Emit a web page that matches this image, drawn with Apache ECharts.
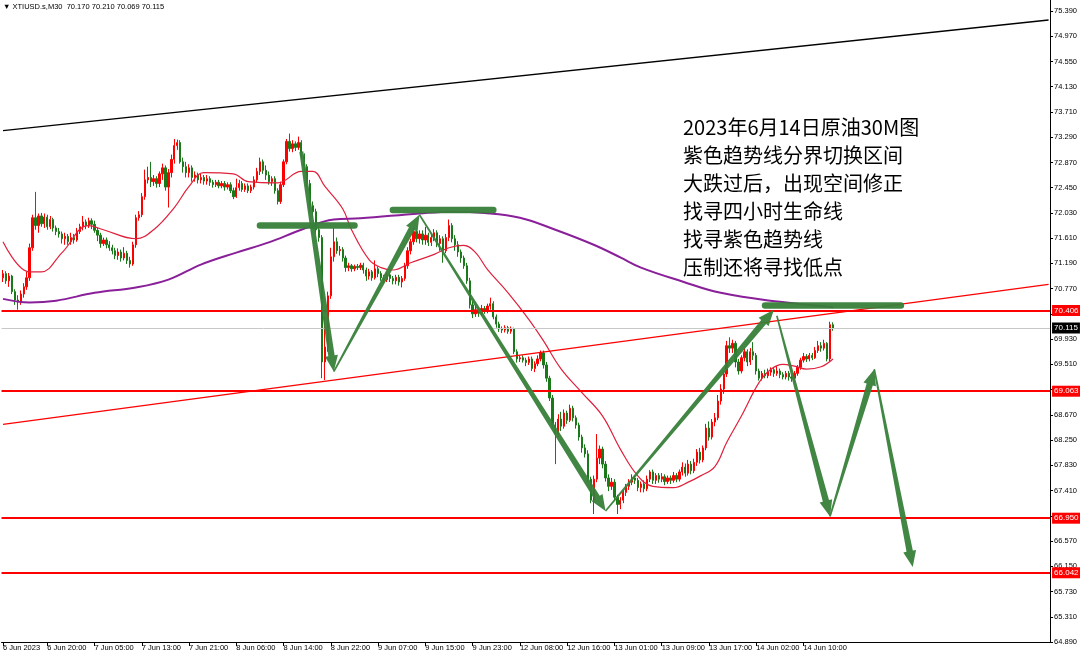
<!DOCTYPE html>
<html><head><meta charset="utf-8">
<script src="https://cdn.jsdelivr.net/npm/echarts@6/dist/echarts.min.js"></script>
<style>html,body{margin:0;padding:0;background:#fff}#c{width:1080px;height:652px}</style>
</head><body><div id="c"></div>
<script>
// ---- candles: [open, close, low, high], one array per trading day ----
const jun6 = [
[70.95,71.02,70.88,71.08],[71.02,70.90,70.85,71.06],[70.90,70.98,70.80,71.03],[70.98,70.72,70.68,71.00],
[70.72,70.58,70.50,70.76],[70.58,70.55,70.42,70.66],[70.55,70.68,70.50,70.74],[70.68,70.80,70.62,70.86],
[70.80,70.95,70.75,71.05],[70.95,71.45,70.90,71.52],[71.45,71.95,71.40,72.00],[71.95,71.82,71.75,72.38],
[71.82,71.98,71.70,72.02],[71.98,71.85,71.80,72.03],[71.85,71.96,71.78,72.02],[71.96,71.80,71.75,72.00],
[71.80,71.92,71.76,71.98],[71.92,71.78,71.72,71.95],[71.78,71.72,71.66,71.82],[71.72,71.68,71.62,71.78],
[71.68,71.60,71.52,71.72],[71.60,71.64,71.50,71.70],[71.64,71.55,71.50,71.68]];
const jun7 = [
[71.55,71.62,71.50,71.70],[71.62,71.58,71.52,71.68],[71.58,71.72,71.55,71.78],[71.72,71.80,71.68,71.85],
[71.80,71.88,71.74,71.98],[71.88,71.82,71.76,71.92],[71.82,71.90,71.78,71.95],[71.90,71.84,71.76,71.94],
[71.84,71.74,71.70,71.90],[71.74,71.66,71.56,71.78],[71.66,71.52,71.45,71.70],[71.52,71.58,71.48,71.62],
[71.58,71.50,71.44,71.62],[71.50,71.45,71.40,71.56],[71.45,71.40,71.34,71.50],[71.40,71.32,71.26,71.45],
[71.32,71.38,71.25,71.44],[71.38,71.28,71.22,71.42],[71.28,71.36,71.24,71.46],[71.36,71.24,71.18,71.40],
[71.24,71.18,71.12,71.30],[71.18,71.50,71.15,71.55],[71.50,71.95,71.45,72.00],[71.95,72.00,71.90,72.06],
[72.00,72.30,71.96,72.36],[72.30,72.58,72.25,72.75],[72.58,72.62,72.52,72.80],[72.62,72.55,72.46,72.88],
[72.55,72.60,72.48,72.66],[72.60,72.52,72.45,72.64],[72.52,72.68,72.46,72.72],[72.68,72.78,72.58,72.85],
[72.78,72.46,72.40,72.82],[72.46,72.70,72.12,72.76],[72.70,72.92,72.62,73.00],[72.92,73.15,72.85,73.26],
[73.15,73.20,73.08,73.25],[73.20,72.88,72.85,73.24],[72.88,72.80,72.70,72.95],[72.80,72.70,72.62,72.88],
[72.70,72.78,72.62,72.84],[72.78,72.62,72.55,72.82],[72.62,72.66,72.55,72.72],[72.66,72.58,72.52,72.70],
[72.58,72.62,72.52,72.68],[72.62,72.56,72.50,72.66]];
const jun8 = [
[72.56,72.60,72.50,72.66],[72.60,72.54,72.48,72.64],[72.54,72.50,72.45,72.58],[72.50,72.54,72.46,72.58],
[72.54,72.48,72.44,72.58],[72.48,72.52,72.44,72.56],[72.52,72.46,72.40,72.56],[72.46,72.50,72.42,72.54],
[72.50,72.40,72.36,72.54],[72.40,72.30,72.26,72.45],[72.30,72.45,72.28,72.60],[72.45,72.52,72.40,72.58],
[72.52,72.42,72.38,72.56],[72.42,72.48,72.38,72.52],[72.48,72.40,72.36,72.52],[72.40,72.46,72.36,72.50],
[72.46,72.58,72.42,72.64],[72.58,72.72,72.54,72.78],[72.72,72.88,72.66,72.95],[72.88,72.74,72.68,72.92],
[72.74,72.66,72.58,72.82],[72.66,72.55,72.50,72.72],[72.55,72.60,72.48,72.64],[72.60,72.40,72.35,72.64],
[72.40,72.22,72.17,72.44],[72.22,72.50,72.18,72.55],[72.50,72.88,72.46,72.92],[72.88,73.22,72.84,73.26],
[73.22,73.10,73.05,73.35],[73.10,73.18,73.04,73.24],[73.18,73.12,73.06,73.22],[73.12,73.20,73.08,73.30],
[73.20,72.98,72.92,73.24],[72.98,72.80,72.74,73.02],[72.80,72.52,72.45,72.84],[72.52,72.15,72.05,72.58],
[72.15,72.05,71.96,72.22],[72.05,71.75,71.68,72.10],[71.75,71.62,71.55,71.82],[71.62,69.55,69.28,71.66],
[69.55,69.80,69.25,70.30],[69.80,70.65,69.72,70.72],[70.65,71.30,70.60,71.45],[71.30,71.55,71.22,71.78],
[71.55,71.40,71.35,71.62],[71.40,71.42,71.32,71.48]];
const jun9 = [
[71.42,71.28,71.22,71.46],[71.28,71.12,71.05,71.32],[71.12,71.15,71.06,71.20],[71.15,71.10,71.05,71.18],
[71.10,71.14,71.06,71.17],[71.14,71.12,71.08,71.18],[71.12,71.16,71.08,71.20],[71.16,71.08,71.02,71.20],
[71.08,70.98,70.90,71.12],[70.98,71.05,70.92,71.10],[71.05,70.95,70.90,71.08],[70.95,71.10,70.92,71.24],
[71.10,71.02,70.96,71.14],[71.02,70.95,70.90,71.06],[70.95,70.92,70.86,71.00],[70.92,71.00,70.88,71.04],
[71.00,70.94,70.88,71.04],[70.94,70.90,70.84,70.98],[70.90,70.96,70.84,71.00],[70.96,70.88,70.82,71.00],
[70.88,70.94,70.79,70.98],[70.94,71.15,70.90,71.20],[71.15,71.40,71.10,71.46],[71.40,71.55,71.34,71.60],
[71.55,71.72,71.50,71.78],[71.72,71.60,71.54,71.76],[71.60,71.68,71.52,71.74],[71.68,71.58,71.50,71.74],
[71.58,71.66,71.50,71.80],[71.66,71.54,71.48,71.70],[71.54,71.62,71.48,71.68],[71.62,71.70,71.56,71.76],
[71.70,71.52,71.46,71.74],[71.52,71.60,71.40,71.66],[71.60,71.40,71.20,71.64],[71.40,71.62,71.36,71.68],
[71.62,71.82,71.56,71.92],[71.82,71.60,71.54,71.86],[71.60,71.50,71.40,71.66],[71.50,71.38,71.30,71.56],
[71.38,71.28,71.20,71.42],[71.28,71.15,71.10,71.32],[71.15,70.90,70.85,71.20],[70.90,70.50,70.44,70.95],
[70.50,70.35,70.28,70.56],[70.35,70.42,70.30,70.50]];
const jun12 = [
[70.42,70.36,70.30,70.46],[70.36,70.44,70.32,70.50],[70.44,70.40,70.35,70.48],[70.40,70.48,70.36,70.52],
[70.48,70.52,70.42,70.62],[70.52,70.30,70.26,70.56],[70.30,70.18,70.12,70.34],[70.18,70.10,70.05,70.22],
[70.10,70.08,70.03,70.14],[70.08,70.12,70.04,70.16],[70.12,70.06,70.02,70.15],[70.06,70.10,70.02,70.14],
[70.10,69.72,69.68,70.12],[69.72,69.60,69.54,69.76],[69.60,69.62,69.55,69.66],[69.62,69.58,69.54,69.66],
[69.58,69.54,69.48,69.62],[69.54,69.60,69.50,69.64],[69.60,69.44,69.40,69.64],[69.44,69.52,69.38,69.56],
[69.52,69.60,69.48,69.66],[69.60,69.70,69.56,69.74],[69.70,69.50,69.44,69.74],[69.50,69.28,69.22,69.55],
[69.28,68.95,68.90,69.32],[68.95,68.50,68.44,69.00],[68.50,68.35,67.85,68.55],[68.35,68.60,68.30,68.68],
[68.60,68.48,68.40,68.72],[68.48,68.70,68.44,68.76],[68.70,68.58,68.52,68.74],[68.58,68.78,68.55,68.84],
[68.78,68.62,68.56,68.82],[68.62,68.50,68.44,68.66],[68.50,68.30,68.24,68.54],[68.30,68.12,68.04,68.34],
[68.12,68.02,67.96,68.18],[68.02,67.60,67.55,68.08],[67.60,67.25,67.20,67.64],[67.25,67.60,67.02,67.66],
[67.60,67.95,67.55,68.35],[67.95,68.10,67.85,68.16],[68.10,67.85,67.78,68.14],[67.85,67.62,67.56,67.90],
[67.62,67.48,67.40,67.68],[67.48,67.55,67.42,67.62]];
const jun13 = [
[67.55,67.30,67.24,67.60],[67.30,67.18,67.02,67.34],[67.18,67.25,67.10,67.30],[67.25,67.38,67.20,67.42],
[67.38,67.48,67.32,67.52],[67.48,67.55,67.42,67.60],[67.55,67.62,67.50,67.68],[67.62,67.58,67.52,67.66],
[67.58,67.46,67.40,67.62],[67.46,67.52,67.38,67.56],[67.52,67.44,67.38,67.58],[67.44,67.60,67.40,67.66],
[67.60,67.72,67.55,67.75],[67.72,67.58,67.52,67.76],[67.58,67.66,67.52,67.70],[67.66,67.60,67.54,67.70],
[67.60,67.64,67.55,67.70],[67.64,67.56,67.50,67.68],[67.56,67.62,67.52,67.66],[67.62,67.58,67.52,67.66],
[67.58,67.66,67.54,67.72],[67.66,67.60,67.55,67.70],[67.60,67.72,67.56,67.76],[67.72,67.80,67.66,67.88],
[67.80,67.70,67.64,67.86],[67.70,67.85,67.66,67.92],[67.85,67.74,67.68,67.90],[67.74,67.88,67.70,67.94],
[67.88,68.05,67.82,68.10],[68.05,67.92,67.86,68.12],[67.92,68.12,67.88,68.16],[68.12,68.45,68.08,68.52],
[68.45,68.30,68.24,68.56],[68.30,68.55,68.26,68.60],[68.55,68.62,68.48,68.70],[68.62,68.90,68.58,69.00],
[68.90,69.10,68.84,69.18],[69.10,69.35,69.02,69.40],[69.35,69.82,69.30,69.90],[69.82,69.78,69.70,69.96],
[69.78,69.86,69.70,69.92],[69.86,69.55,69.46,69.90],[69.55,69.40,69.34,69.60],[69.40,69.62,69.36,69.66],
[69.62,69.72,69.56,69.78],[69.72,69.55,69.48,69.76]];
const jun14 = [
[69.55,69.72,69.50,69.78],[69.72,69.66,69.58,69.88],[69.66,69.40,69.34,69.70],[69.40,69.28,69.24,69.44],
[69.28,69.36,69.24,69.40],[69.36,69.32,69.28,69.42],[69.32,69.38,69.28,69.44],[69.38,69.42,69.32,69.46],
[69.42,69.36,69.30,69.46],[69.36,69.40,69.32,69.48],[69.40,69.34,69.28,69.44],[69.34,69.30,69.26,69.38],
[69.30,69.36,69.26,69.40],[69.36,69.30,69.24,69.40],[69.30,69.28,69.22,69.34],[69.28,69.36,69.24,69.40],
[69.36,69.46,69.32,69.50],[69.46,69.58,69.42,69.62],[69.58,69.64,69.54,69.70],[69.64,69.60,69.55,69.68],
[69.60,69.66,69.56,69.70],[69.66,69.62,69.58,69.70],[69.62,69.74,69.60,69.80],[69.74,69.82,69.70,69.90],
[69.82,69.78,69.72,69.88],[69.78,69.86,69.74,69.92],[69.86,69.60,69.56,69.88],[69.60,70.17,69.56,70.22],
[70.17,70.115,70.069,70.21]];

// ---- moving averages: [bar index, price] ----
const maRed = [[0,71.55],[9,71.05],[13,71.05],[20,71.37],[29,71.82],[34,71.75],[45,71.60],[51,71.75],[58,72.12],[63,72.47],[68,72.70],[78,72.68],[83,72.55],[93,72.53],[101,72.72],[105,72.72],[109,72.47],[115,72.10],[118,71.75],[124,71.25],[128,71.12],[132,71.08],[138,71.20],[146,71.34],[151,71.45],[156,71.49],[160,71.37],[164,71.09],[171,70.70],[178,70.26],[183,69.90],[189,69.43],[196,69.04],[203,68.65],[209,68.10],[215,67.65],[220,67.48],[227,67.46],[232,67.55],[236,67.65],[241,67.81],[245,68.21],[250,68.65],[256,69.21],[260,69.43],[264,69.51],[268,69.48],[272,69.43],[277,69.47],[281,69.60]];
const maPurple = [[0,70.60],[9,70.54],[18,70.57],[31,70.70],[45,70.79],[56,70.92],[67,71.17],[79,71.37],[90,71.54],[101,71.75],[112,71.92],[121,71.94],[141,72.02],[152,72.05],[163,72.03],[175,71.95],[187,71.75],[200,71.50],[209,71.29],[216,71.12],[230,70.89],[243,70.70],[263,70.55],[281,70.46]];

// ---- axes ----
const slotCount = 355;
const xTickIdx = [0,15,31,47,63,79,95,111,127,143,159,175,191,207,223,239,255,271];
const xTickLabels = ['6 Jun 2023','6 Jun 20:00','7 Jun 05:00','7 Jun 13:00','7 Jun 21:00','8 Jun 06:00','8 Jun 14:00','8 Jun 22:00','9 Jun 07:00','9 Jun 15:00','9 Jun 23:00','12 Jun 08:00','12 Jun 16:00','13 Jun 01:00','13 Jun 09:00','13 Jun 17:00','14 Jun 02:00','14 Jun 10:00'];
const yTicks = [75.39,74.97,74.55,74.13,73.71,73.29,72.87,72.45,72.03,71.61,71.19,70.77,70.35,69.93,69.51,69.09,68.67,68.25,67.83,67.41,66.99,66.57,66.15,65.73,65.31,64.89];
const yMin = 64.89, yMax = 75.573;

// ---- drawn objects (in bar index / price) ----
const levels = [70.406, 69.063, 66.950, 66.042];
const lastPrice = 70.115;
const channelTop = [[0,73.40],[354,75.24]];
const risingLine = [[0,68.51],[354,70.84]];
const greenBars = [[87,71.82,119,71.82],[132,72.08,166,72.08],[258,70.49,304,70.49]];
const arrows = [[101,73.05,112,69.39],[112,69.39,141,72.00],[141,72.00,204,67.07],[204,67.07,261,70.42],[262,70.32,280,66.98],[280,66.98,295,69.43],[295,69.43,308,66.14]];
const headerText = '▼ XTIUSD.s,M30  70.170 70.210 70.069 70.115';
const notes = ['2023年6月14日原油30M图','紫色趋势线分界切换区间','大跌过后，出现空间修正','找寻四小时生命线','找寻紫色趋势线','压制还将寻找低点'];

const candles = [].concat(jun6, jun7, jun8, jun9, jun12, jun13, jun14);
const categories = Array.from({length: slotCount}, (_, i) => String(i));
const tickSet = new Set(xTickIdx);
const GREEN = '#38803a';

function renderArrow(params, api) {
  const a = api.coord([api.value(0), api.value(1)]);
  const b = api.coord([api.value(2), api.value(3)]);
  const dx = b[0]-a[0], dy = b[1]-a[1], L = Math.hypot(dx, dy);
  const ux = dx/L, uy = dy/L, nx = -uy, ny = ux;
  const hl = 16, hw = 6.5, w0 = params.dataIndex === 0 ? 2 : 0.8, w1 = 3.2;
  const sx = b[0]-ux*hl, sy = b[1]-uy*hl;
  const pts = [[a[0]+nx*w0,a[1]+ny*w0],[sx+nx*w1,sy+ny*w1],[sx+nx*hw,sy+ny*hw],[b[0],b[1]],
               [sx-nx*hw,sy-ny*hw],[sx-nx*w1,sy-ny*w1],[a[0]-nx*w0,a[1]-ny*w0]];
  return {type:'polygon', shape:{points:pts}, style:{fill:GREEN, opacity:0.95}};
}
function renderBar(params, api) {
  const a = api.coord([api.value(0), api.value(1)]);
  const b = api.coord([api.value(2), api.value(3)]);
  return {type:'line', shape:{x1:a[0],y1:a[1],x2:b[0],y2:b[1]}, style:{stroke:GREEN, lineWidth:6.5, lineCap:'round', opacity:0.95}};
}

const levelLabel = (bg, v) => ({show:true, position:'end', distance:2, formatter:v.toFixed(3),
  backgroundColor:bg, color:'#fff', fontSize:8, fontFamily:'Liberation Sans', padding:[2,2,1,2]});

const chart = echarts.init(document.getElementById('c'), null, {renderer:'canvas'});
chart.setOption({
  animation:false,
  backgroundColor:'#ffffff',
  grid:{left:-1, right:29, top:0, bottom:9, containLabel:false},
  xAxis:{type:'category', data:categories, boundaryGap:true,
    axisLine:{show:true, lineStyle:{color:'#000', width:1}},
    axisTick:{show:true, alignWithLabel:true, interval:(i)=>tickSet.has(i), length:4, lineStyle:{color:'#000'}},
    axisLabel:{show:true, interval:(i)=>tickSet.has(i), formatter:(v,i)=>xTickLabels[xTickIdx.indexOf(i)],
      align:'left', fontSize:7.5, margin:2, color:'#000', fontFamily:'Liberation Sans'},
    splitLine:{show:false}},
  yAxis:{type:'value', position:'right', min:yMin, max:yMax, scale:true,
    splitLine:{show:false},
    axisLine:{show:true, lineStyle:{color:'#000', width:1}},
    axisTick:{show:true, customValues:yTicks, length:3, lineStyle:{color:'#000'}},
    axisLabel:{show:true, customValues:yTicks, formatter:(v)=>v.toFixed(3), fontSize:7.5, margin:4, color:'#000', fontFamily:'Liberation Sans'}},
  graphic:[
    {type:'text', left:3, top:3, z:100, style:{text:headerText, font:'7.5px "Liberation Sans"', fill:'#000'}},
    {type:'text', left:683, top:113, z:100, style:{text:notes.join('\n'), font:'20px "Noto Sans CJK SC"', lineHeight:28, fill:'#000'}}
  ],
  series:[
    {type:'candlestick', data:candles, barWidth:1.8,
      itemStyle:{color:'#ff0000', color0:'#1a7a1a', borderColor:'#ff0000', borderColor0:'#1a7a1a', borderWidth:1},
      markLine:{silent:true, symbol:'none', animation:false, precision:3,
        data:[
          ...levels.map(v=>({yAxis:v, lineStyle:{color:'#ff0000', width:2, type:'solid'}, label:levelLabel('#ff0000', v)})),
          {yAxis:lastPrice, lineStyle:{color:'#c8c8c8', width:1, type:'solid'}, label:levelLabel('#000000', lastPrice)},
          [{coord:channelTop[0]},{coord:channelTop[1], lineStyle:{color:'#000', width:1.3, type:'solid'}, label:{show:false}}],
          [{coord:risingLine[0]},{coord:risingLine[1], lineStyle:{color:'#ff0000', width:1.3, type:'solid'}, label:{show:false}}]
        ]}},
    {type:'line', data:maRed, smooth:0.4, showSymbol:false, symbol:'none', lineStyle:{color:'#e0203c', width:1.2}, z:3},
    {type:'line', data:maPurple, smooth:0.4, showSymbol:false, symbol:'none', lineStyle:{color:'#8a1f9a', width:2}, z:3},
    {type:'custom', data:greenBars, renderItem:renderBar, encode:{x:[0,2], y:[1,3]}, z:5, silent:true},
    {type:'custom', data:arrows, renderItem:renderArrow, encode:{x:[0,2], y:[1,3]}, z:6, silent:true}
  ]
});
</script>
</body></html>
